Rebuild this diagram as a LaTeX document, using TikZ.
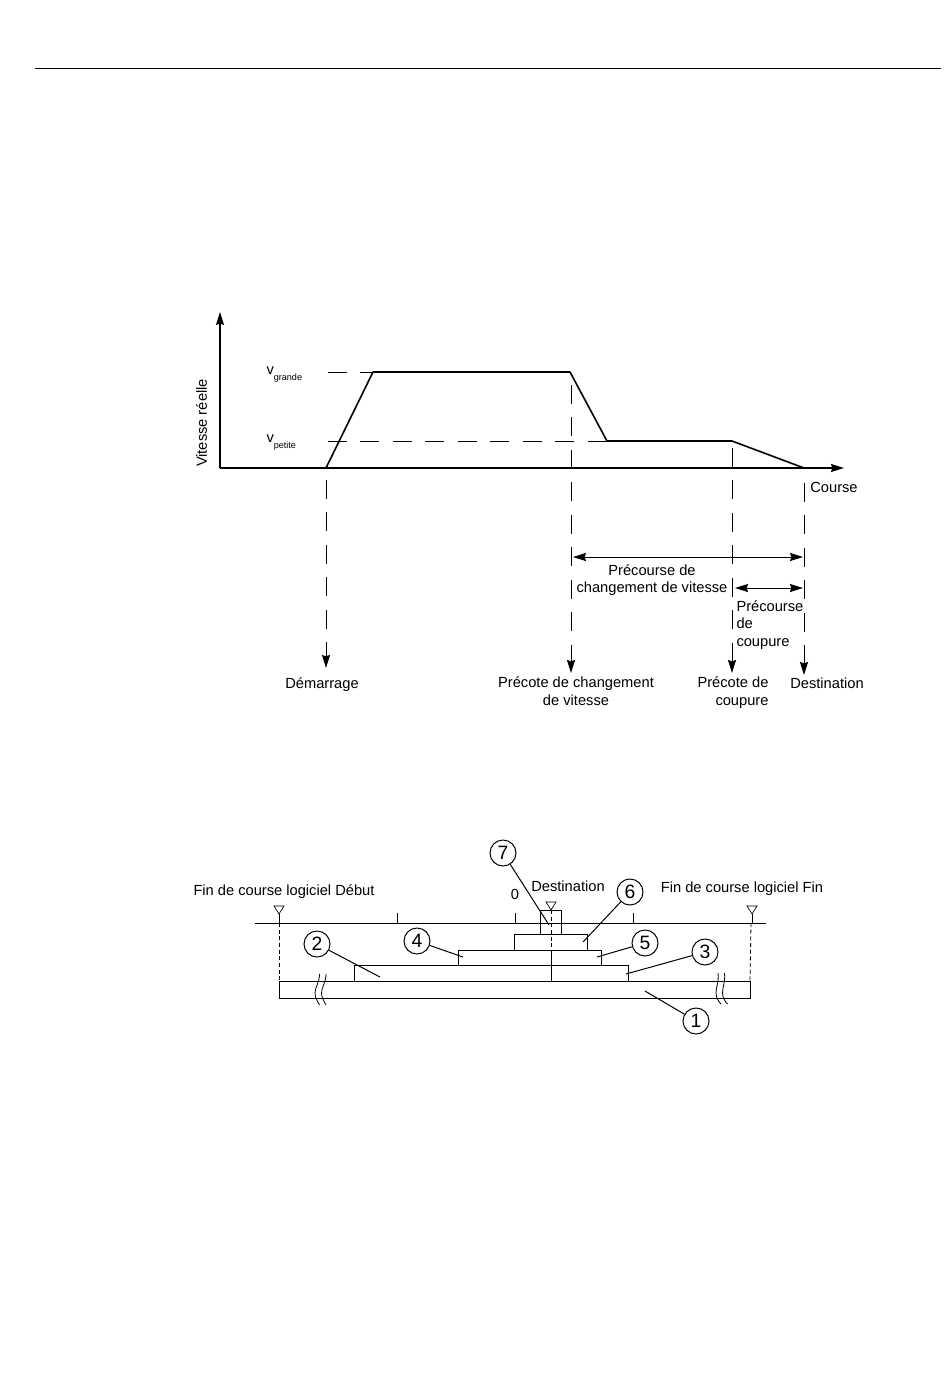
\documentclass[tikz,border=0pt]{standalone}
\usepackage{fontspec}
\setmainfont{Liberation Sans}
\usetikzlibrary{arrows.meta}

\begin{document}
\begin{tikzpicture}[x=0.75pt, y=-0.75pt, line width=0.75pt, >={Stealth[length=9.75pt,width=6pt,inset=1pt]},
	lbl/.style={inner sep=0pt, font=\fontsize{11}{13.1}\selectfont},
	axis/.style={line width=0.9pt},
	profile/.style={line width=1.2pt, line join=round},
	guide/.style={line width=0.7pt, dash pattern=on 14.25pt off 10.1pt},
	fine/.style={line width=0.6pt, densely dashed},
	num/.style={circle, draw, line width=0.75pt, minimum size=19.5pt, inner sep=0pt, font=\fontsize{14.5}{14.5}\selectfont}]
	\useasboundingbox (0,0) rectangle (950,1397);
	\coordinate (ruleL) at (35,68.5);
	\coordinate (ruleR) at (941,68.5);
	\draw (ruleL) -- (ruleR);

	% speed curve
	\coordinate (orig) at (220,468);
	\coordinate (vtop) at (220,312);
	\coordinate (xend) at (844,468);
	\coordinate (p1) at (326,468);
	\coordinate (p2) at (373,372);
	\coordinate (p3) at (570,372);
	\coordinate (p4) at (607,441);
	\coordinate (p5) at (732,441);
	\coordinate (p6) at (804,468);
	\coordinate (gs) at (328,372);
	\coordinate (ps) at (328,441);
	\draw[axis,->] (orig) -- (vtop);
	\draw[axis,->] (orig) -- (xend);
	\draw[profile] (p1) -- (p2) -- (p3) -- (p4) -- (p5) -- (p6);
	\draw[guide] (gs) -- (p2);
	\draw[guide] (ps) -- (p4);

	\node[lbl, rotate=90] (vreal) at (201.5,423) {Vitesse réelle};
	\node[lbl, anchor=west] (vg) at (266,374.5) {v\raisebox{-4pt}{\fontsize{6.8}{7}\selectfont grande}};
	\node[lbl, anchor=west] (vp) at (266,442.5) {v\raisebox{-4pt}{\fontsize{6.8}{7}\selectfont petite}};
	\node[lbl] (course) at (834,487) {Course};

	% guides going down
	\node[lbl] (demar) at (322,685) {Démarrage};
	\node[lbl, align=center] (pchg) at (576,691) {Précote de changement\\de vitesse};
	\node[lbl, align=right, anchor=east] (pcut) at (769,692.5) {Précote de\\coupure};
	\node[lbl] (dest) at (827,683) {Destination};
	\coordinate (s1) at (326,480);
	\coordinate (s2) at (571,385);
	\coordinate (s3) at (732,448);
	\coordinate (s4) at (804,483);
	\coordinate (d1) at (326,668);
	\coordinate (d2) at (571,673);
	\coordinate (d3) at (732,673);
	\coordinate (d4) at (804,675);
	\draw[guide,->] (s1) -- (d1);
	\draw[guide,->] (s2) -- (d2);
	\draw[guide,->] (s3) -- (d3);
	\draw[guide,->] (s4) -- (d4);

	\coordinate (a1) at (573,557);
	\coordinate (a2) at (803,557);
	\coordinate (b1) at (735,588);
	\coordinate (b2) at (803,588);
	\draw[<->] (a1) -- (a2);
	\draw[<->] (b1) -- (b2);
	\node[lbl, align=center] (pcchg) at (652,580) {Précourse de\\changement de vitesse};
	\node[lbl, align=left, anchor=west] (pccut) at (736,625) {Précourse\\de\\coupure};

	% travel range
	\node[lbl] (fcd) at (284,892) {Fin de course logiciel Début};
	\node[lbl] (fcf) at (742,889) {Fin de course logiciel Fin};
	\node[lbl] (dst2) at (568,886) {Destination};
	\node[lbl] (zero) at (515,894) {0};
	\coordinate (railL) at (255,923);
	\coordinate (railR) at (766,923);
	\draw (railL) -- (railR);
	\foreach \x in {397,515,633} \draw (\x,913) -- (\x,923);
	\foreach \x in {279,752} {
		\draw[line width=0.5pt] (\x-5,906) -- (\x+5,906) -- (\x,914) -- cycle;
		\draw (\x,914) -- (\x,923);
	}
	\draw[line width=0.5pt] (546,902) -- (556,902) -- (551,910) -- cycle;

	\draw (279,981) rectangle (750,998);
	\draw (354,981) |- (628,965) -- (628,981);
	\draw (458,965) |- (601,950) -- (601,965);
	\draw (514,950) |- (587,934) -- (587,950);
	\draw (540,934) |- (561,910) -- (561,934);

	\coordinate (lim1) at (279,923);
	\coordinate (lim2) at (279,981);
	\coordinate (lim3) at (751,923);
	\coordinate (lim4) at (750,981);
	\coordinate (cen1) at (551,910);
	\coordinate (cen2) at (551,950);
	\coordinate (cen3) at (551,981);
	\draw[fine] (lim1) -- (lim2);
	\draw[fine] (lim3) -- (lim4);
	\draw[fine] (cen1) -- (cen2);
	\draw (cen2) -- (cen3);

	% break marks
	\foreach \x in {0,6.5} {
		\draw[line width=0.6pt] (\x+319.5,974) .. controls (\x+319.5,983) and (\x+315,987) .. (\x+315,993) .. controls (\x+315,998) and (\x+318,1002) .. (\x+319.5,1005);
		\draw[line width=0.6pt] (\x+718,973) .. controls (\x+719,982) and (\x+716,987) .. (\x+716,993) .. controls (\x+716,998) and (\x+719,1002) .. (\x+721,1004);
	}

	% callouts
	\node[num] (n1) at (696,1021) {1};
	\node[num] (n2) at (317,944) {2};
	\node[num] (n3) at (705,952) {3};
	\node[num] (n4) at (417,941) {4};
	\node[num] (n5) at (645,943) {5};
	\node[num] (n6) at (630,892) {6};
	\node[num] (n7) at (503,853) {7};
	\coordinate (t1) at (645,991);
	\coordinate (t2) at (380,977);
	\coordinate (t3) at (626,974);
	\coordinate (t4) at (463,957);
	\coordinate (t5) at (597,957);
	\coordinate (t6) at (583,942);
	\coordinate (t7) at (549,925);
	\foreach \i in {1,...,7} \draw (n\i) -- (t\i);
\end{tikzpicture}
\end{document}
